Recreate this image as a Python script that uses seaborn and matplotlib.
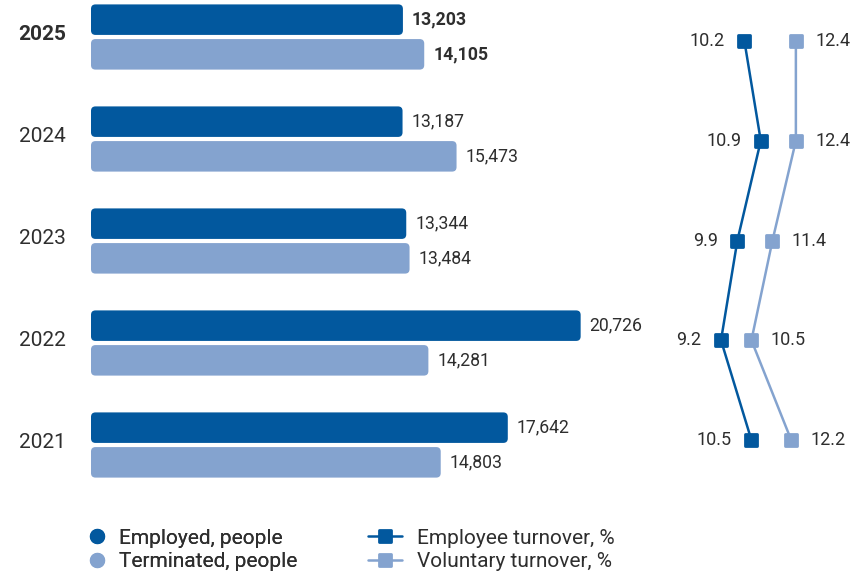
import matplotlib
matplotlib.use("Agg")
import matplotlib.pyplot as plt
from matplotlib.patches import FancyBboxPatch
from matplotlib.lines import Line2D
from matplotlib.markers import MarkerStyle
import matplotlib.transforms as mtransforms
import seaborn as sns
import pandas as pd

years = [2025, 2024, 2023, 2022, 2021]
employed = [13203, 13187, 13344, 20726, 17642]
terminated = [14105, 15473, 13484, 14281, 14803]
employee_turnover = [10.2, 10.9, 9.9, 9.2, 10.5]
voluntary_turnover = [12.4, 12.4, 11.4, 10.5, 12.2]
bar_series = ["Employed, people", "Terminated, people"]
line_series = ["Employee turnover, %", "Voluntary turnover, %"]

DARK = "#02589E"
LIGHT = "#84A3CF"
TXT = "#2E2E2E"

sns.set_theme(style="white")
plt.rcParams["font.family"] = ["Roboto", "DejaVu Sans"]

bars = pd.DataFrame({
    "year": [str(y) for y in years] * 2,
    "value": employed + terminated,
    "series": [bar_series[0]] * 5 + [bar_series[1]] * 5,
})
lines = pd.DataFrame({
    "year": years * 2,
    "value": employee_turnover + voluntary_turnover,
    "series": [line_series[0]] * 5 + [line_series[1]] * 5,
})

W, H = 862, 575
fig = plt.figure(figsize=(W / 100, H / 100), dpi=100)

# ---- bar axes ----
ax1 = fig.add_axes([91 / W, (H - 496) / H, 567 / W, 510 / H])
sns.barplot(data=bars, y="year", x="value", hue="series", orient="h",
            order=[str(y) for y in years], hue_order=bar_series,
            palette=[DARK, LIGHT], width=0.68, gap=0.12, ax=ax1,
            legend=False, saturation=1)
ax1.set_xlim(0, 24000)
ax1.set_ylim(4.5, -0.5)

# rounded corners
x_per_px = 24000 / 567
y_per_px = 5 / 510
aspect = y_per_px / x_per_px
for p in list(ax1.patches):
    x0, y0 = p.get_x(), p.get_y()
    w, h = p.get_width(), p.get_height()
    fc = p.get_facecolor()
    p.remove()
    fb = FancyBboxPatch((x0, y0), w, h,
                        boxstyle=f"round,pad=0,rounding_size={4.5 * x_per_px}",
                        mutation_aspect=aspect, fc=fc, ec="none")
    ax1.add_patch(fb)

bar_h = 0.34
for i, y in enumerate(years):
    bold = "bold" if y == 2025 else "normal"
    for j, vals in enumerate([employed, terminated]):
        yc = i - bar_h / 2 + j * bar_h
        ax1.annotate(f"{vals[i]:,}", (vals[i], yc), xytext=(6.5, 0),
                     textcoords="offset points", ha="left", va="center",
                     fontsize=12.7, color=TXT, fontweight=bold)

ax1.set_xlabel("")
ax1.set_ylabel("")
ax1.set_xticks([])
ax1.tick_params(axis="y", length=0, pad=18, labelsize=15, labelcolor=TXT)
shift = mtransforms.ScaledTranslation(0, 3 / 72, fig.dpi_scale_trans)
for lbl in ax1.get_yticklabels():
    lbl.set_transform(lbl.get_transform() + shift)
    if lbl.get_text() == "2025":
        lbl.set_fontweight("bold")
for s in ax1.spines.values():
    s.set_visible(False)
ax1.patch.set_alpha(0)

# ---- line axes ----
ax2 = fig.add_axes([660 / W, 0, 202 / W, 1])
mk = MarkerStyle("s", joinstyle="round")
sns.lineplot(data=lines, x="value", y="year", hue="series", orient="y",
             hue_order=line_series, palette=[DARK, LIGHT], sort=True,
             estimator=None, marker=mk, markersize=9, markeredgewidth=2,
             linewidth=1.8, legend=False, ax=ax2)
for ln in ax2.lines:
    ln.set_markeredgecolor(ln.get_color())
ax2.set_xlim(6.593, 15.226)
ax2.set_ylim(2019.647, 2025.411)
for i, y in enumerate(years):
    ax2.annotate(f"{employee_turnover[i]:.1f}", (employee_turnover[i], y),
                 xytext=(-14, 0), textcoords="offset points", ha="right",
                 va="center", fontsize=13, color=TXT)
    ax2.annotate(f"{voluntary_turnover[i]:.1f}", (voluntary_turnover[i], y),
                 xytext=(14, 0), textcoords="offset points", ha="left",
                 va="center", fontsize=13, color=TXT)
ax2.axis("off")

# ---- legends ----
h1 = [Line2D([], [], marker="o", ls="none", color=c, markersize=10)
      for c in [DARK, LIGHT]]
h2 = [Line2D([], [], marker=mk, color=c, markersize=8, markeredgewidth=2,
             lw=1.8) for c in [DARK, LIGHT]]
leg1 = fig.legend(h1, bar_series, loc="center left",
                  bbox_to_anchor=(88 / W, 1 - 550 / H), frameon=False,
                  fontsize=15, handlelength=0.87, handletextpad=0.62,
                  labelspacing=0.22, borderpad=0, borderaxespad=0,
                  labelcolor=TXT)
leg2 = fig.legend(h2, line_series, loc="center left",
                  bbox_to_anchor=(368 / W, 1 - 550 / H), frameon=False,
                  fontsize=15, handlelength=1.63, handletextpad=0.72,
                  labelspacing=0.22, borderpad=0, borderaxespad=0,
                  labelcolor=TXT)
fig.add_artist(leg1)

fig.savefig("out.png", dpi=100)
